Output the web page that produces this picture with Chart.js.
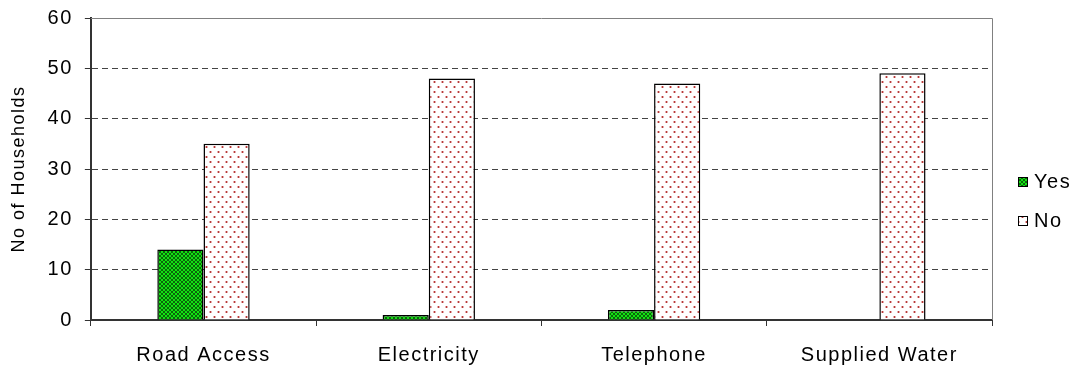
<!DOCTYPE html>
<html>
<head>
<meta charset="utf-8">
<script src="https://cdn.jsdelivr.net/npm/chart.js@4.4.1/dist/chart.umd.min.js"></script>
<style>
  html, body { margin: 0; padding: 0; background: #ffffff; }
  #wrap { width: 1078px; height: 368px; position: relative; }
</style>
</head>
<body>
<div id="wrap"><canvas id="c" width="1078" height="368"></canvas></div>
<script>
// Household access to services
const categories = ['Road Access', 'Electricity', 'Telephone', 'Supplied Water'];
const yesValues = [14, 1, 2, 0];
const noValues = [35, 48, 47, 49];
const seriesNames = ['Yes', 'No'];
const yTicks = [0, 10, 20, 30, 40, 50, 60];
const yTitle = 'No of Households';

const FONT = '"Liberation Sans", Arial, sans-serif';
const FONT_SIZE = 20;
const TITLE_SIZE = 18;
const SPACING = '1.5px';

// Green diagonal cross-hatch fill
function makeHatch() {
  const t = document.createElement('canvas');
  t.width = 4; t.height = 4;
  const g = t.getContext('2d');
  g.fillStyle = '#12e212';
  g.fillRect(0, 0, 4, 4);
  g.fillStyle = '#0a660a';
  for (let i = 0; i < 4; i++) {
    g.fillRect(i, i, 1, 1);
    g.fillRect(3 - i, i, 1, 1);
  }
  return g.createPattern(t, 'repeat');
}

// White fill with sparse red dots
function makeDots() {
  const t = document.createElement('canvas');
  t.width = 8; t.height = 10;
  const g = t.getContext('2d');
  g.fillStyle = '#ffffff';
  g.fillRect(0, 0, 8, 10);
  g.fillStyle = 'rgba(190,60,60,0.4)';
  g.fillRect(1, 1, 3, 2); g.fillRect(5, 6, 3, 2);
  g.fillStyle = '#b83a3a';
  g.fillRect(2, 1, 1, 2); g.fillRect(6, 6, 1, 2);
  return g.createPattern(t, 'repeat');
}

const fills = [makeHatch(), makeDots()];

// Slightly open letter spacing for all chart text
const textSpacing = {
  id: 'textSpacing',
  beforeLayout(chart) { chart.ctx.letterSpacing = SPACING; },
  beforeDraw(chart) { chart.ctx.letterSpacing = SPACING; }
};

// Gray frame along the top and right of the plot area
const frame = {
  id: 'frame',
  beforeDatasetsDraw(chart) {
    const a = chart.chartArea, ctx = chart.ctx;
    ctx.save();
    ctx.strokeStyle = '#808080';
    ctx.lineWidth = 1;
    ctx.beginPath();
    ctx.moveTo(a.left, a.top + 0.5);
    ctx.lineTo(a.right + 0.5, a.top + 0.5);
    ctx.lineTo(a.right + 0.5, a.bottom);
    ctx.stroke();
    ctx.restore();
  }
};

// Legend at the right of the plot area
const sideLegend = {
  id: 'sideLegend',
  afterDraw(chart) {
    const a = chart.chartArea, ctx = chart.ctx;
    const x = a.right + 26;
    const yMid = (a.top + a.bottom) / 2;
    const rows = [yMid + 13, yMid + 52];
    ctx.save();
    ctx.font = FONT_SIZE + 'px ' + FONT;
    ctx.textBaseline = 'middle';
    chart.data.datasets.forEach((ds, i) => {
      const y = rows[i];
      ctx.fillStyle = ds.backgroundColor;
      ctx.fillRect(x, y - 5, 10, 10);
      ctx.strokeStyle = '#000';
      ctx.lineWidth = 1;
      ctx.strokeRect(x + 0.5, y - 4.5, 9, 9);
      ctx.fillStyle = '#000';
      ctx.fillText(ds.label, x + 16, y);
    });
    ctx.restore();
  }
};

new Chart(document.getElementById('c'), {
  type: 'bar',
  data: {
    labels: categories,
    datasets: [
      { label: seriesNames[0], data: yesValues, backgroundColor: fills[0], borderColor: '#000', borderWidth: 1.5 },
      { label: seriesNames[1], data: noValues, backgroundColor: fills[1], borderColor: '#000', borderWidth: 1.5 }
    ]
  },
  options: {
    responsive: false,
    animation: false,
    devicePixelRatio: 1,
    layout: { padding: { top: 0, right: 86, left: 8, bottom: 0 } },
    datasets: { bar: { categoryPercentage: 0.41, barPercentage: 1.0 } },
    plugins: {
      legend: { display: false },
      tooltip: { enabled: false }
    },
    scales: {
      x: {
        afterFit(scale) { scale.height = 48; },
        grid: { offset: true, drawOnChartArea: false, drawTicks: true, tickLength: 6, color: '#333' },
        border: { color: '#333', width: 2 },
        ticks: { color: '#000', font: { family: FONT, size: FONT_SIZE }, padding: 17 }
      },
      y: {
        min: 0, max: 60,
        afterBuildTicks(scale) { scale.ticks = yTicks.map(v => ({ value: v })); },
        afterFit(scale) { scale.paddingTop = 18; },
        grid: {
          color: ctx => (ctx.tick && (ctx.tick.value === 0 || ctx.tick.value === 60)) ? 'rgba(0,0,0,0)' : '#444',
          tickColor: '#333',
          tickLength: 6,
          lineWidth: 1
        },
        border: { color: '#333', width: 2, dash: [6, 4] },
        ticks: { color: '#000', font: { family: FONT, size: FONT_SIZE }, padding: 12 },
        title: { display: true, text: yTitle, color: '#000', font: { family: FONT, size: TITLE_SIZE }, padding: { top: 0, bottom: 6 } }
      }
    }
  },
  plugins: [textSpacing, frame, sideLegend]
});
</script>
</body>
</html>
